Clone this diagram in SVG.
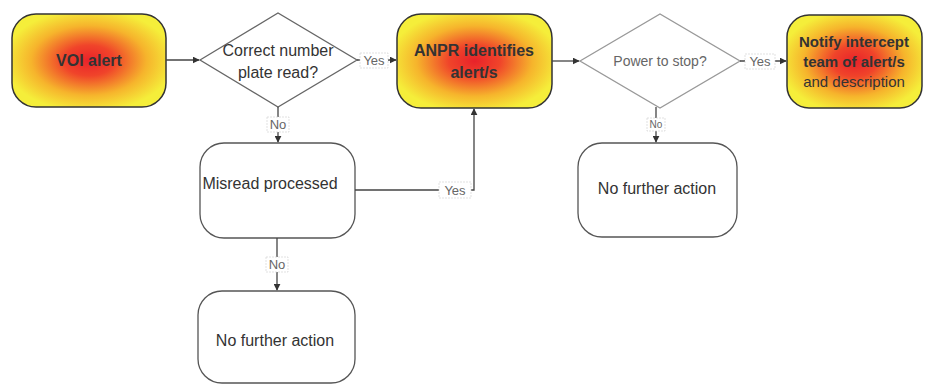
<svg xmlns="http://www.w3.org/2000/svg" width="931" height="385" viewBox="0 0 931 385">
<defs>
<radialGradient id="hot" cx="50%" cy="50%" r="55%">
<stop offset="0" stop-color="#e8222a"/>
<stop offset="0.3" stop-color="#f0442a"/>
<stop offset="0.68" stop-color="#f6b42c"/>
<stop offset="1" stop-color="#f5ee3a"/>
</radialGradient>
<marker id="ah" viewBox="0 0 10 10" refX="9" refY="5" markerWidth="7" markerHeight="7" orient="auto" markerUnits="userSpaceOnUse">
<path d="M0,0 L10,5 L0,10 z" fill="#333"/>
</marker>
</defs>
<style>
.hot{fill:url(#hot);stroke:#333;stroke-width:1.5}
.plain{fill:#fff;stroke:#555;stroke-width:1.3}
.dia{fill:#fff;stroke:#666;stroke-width:1.3}
.dia2{fill:#fff;stroke:#999;stroke-width:1.3}
.t{font-family:"Liberation Sans",Arial,sans-serif;font-size:16px;fill:#333;text-anchor:middle}
.tb{font-family:"Liberation Sans",Arial,sans-serif;font-size:16px;font-weight:bold;fill:#333;text-anchor:middle}
.tl{font-family:"Liberation Sans",Arial,sans-serif;font-size:13px;fill:#666;text-anchor:middle}
.c{fill:none;stroke:#444;stroke-width:1.3}
.lbg{fill:#fff;stroke:#ccc;stroke-width:0.6;stroke-dasharray:2 1}
</style>
<rect width="931" height="385" fill="#fff"/>
<g id="n_voi">
<rect class="hot" x="12" y="14" width="154" height="93" rx="24"/>
<text class="tb" x="89" y="66">VOI alert</text>
</g>
<g id="n_correct">
<polygon class="dia" points="200,60 278,13 357,60 278,107"/>
<text class="t" x="278" y="56">Correct number</text>
<text class="t" x="278" y="78">plate read?</text>
</g>
<g id="n_anpr">
<rect class="hot" x="397" y="14" width="155" height="94" rx="24"/>
<text class="tb" x="474" y="56">ANPR identifies</text>
<text class="tb" x="474" y="78">alert/s</text>
</g>
<g id="n_power">
<polygon class="dia2" points="580,61 660,14 740,61 660,108"/>
<text class="tl" x="660" y="66" style="font-size:14px">Power to stop?</text>
</g>
<g id="n_notify">
<rect class="hot" x="787" y="15" width="135" height="93" rx="22"/>
<text class="tb" x="854" y="47" style="font-size:15px">Notify intercept</text>
<text class="tb" x="854" y="67" style="font-size:15px">team of alert/s</text>
<text class="t" x="854" y="87" style="font-size:15px">and description</text>
</g>
<g id="n_misread">
<rect class="plain" x="200" y="143" width="155" height="95" rx="24"/>
<text class="t" x="270" y="189">Misread processed</text>
</g>
<g id="n_nfa1">
<rect class="plain" x="578" y="143" width="159" height="94" rx="24"/>
<text class="t" x="657" y="194">No further action</text>
</g>
<g id="n_nfa2">
<rect class="plain" x="198" y="291" width="157" height="92" rx="24"/>
<text class="t" x="275" y="346">No further action</text>
</g>
<g id="connectors">
<line class="c" x1="166" y1="60" x2="199" y2="60" marker-end="url(#ah)"/>
<line class="c" x1="357" y1="60" x2="396" y2="60" marker-end="url(#ah)"/>
<rect class="lbg" x="360" y="53" width="28" height="15"/>
<text class="tl" x="374" y="65">Yes</text>
<line class="c" x1="552" y1="61" x2="579" y2="61" marker-end="url(#ah)"/>
<line class="c" x1="740" y1="61" x2="786" y2="61" marker-end="url(#ah)"/>
<rect class="lbg" x="745" y="54" width="30" height="15"/>
<text class="tl" x="760" y="66">Yes</text>
<line class="c" x1="278" y1="107" x2="278" y2="142" marker-end="url(#ah)"/>
<rect class="lbg" x="267" y="117" width="22" height="15"/>
<text class="tl" x="278" y="129">No</text>
<polyline class="c" points="355,190 474,190 474,109" marker-end="url(#ah)"/>
<rect class="lbg" x="439" y="182" width="32" height="16"/>
<text class="tl" x="455" y="195">Yes</text>
<line class="c" x1="277" y1="238" x2="277" y2="290" marker-end="url(#ah)"/>
<rect class="lbg" x="266" y="257" width="22" height="15"/>
<text class="tl" x="277" y="269">No</text>
<line class="c" x1="656" y1="107" x2="656" y2="142" marker-end="url(#ah)"/>
<rect class="lbg" x="647" y="118" width="18" height="13"/>
<text class="tl" x="656" y="128" style="font-size:10px">No</text>
</g>
</svg>
